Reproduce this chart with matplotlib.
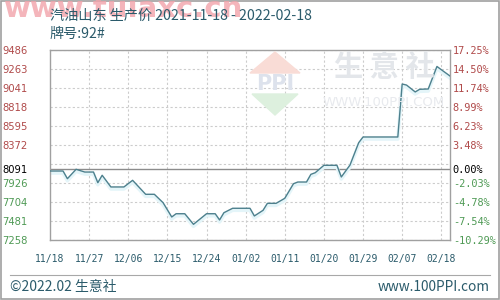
import matplotlib.pyplot as plt
import matplotlib.transforms as mtransforms
from matplotlib.patches import Polygon, Rectangle
from matplotlib.lines import Line2D

plt.rcParams['font.family'] = ['Noto Sans CJK SC', 'DejaVu Sans']

# days counted from 2021-11-18, price in yuan/ton
days = [0, 3, 4, 6, 8, 10, 11, 12, 14, 17, 19, 22, 24, 26, 28, 29, 31, 33, 36, 38,
        39, 40, 42, 46, 47, 49, 50, 52, 54, 56, 57, 59, 60, 61, 63, 66, 67, 69, 71, 72,
        80, 81, 82, 84, 85, 87, 89, 90, 92]
prices = [8067, 8067, 7977, 8087, 8055, 8055, 7930, 8017, 7880, 7880, 7958, 7794, 7794,
          7696, 7528, 7566, 7566, 7442, 7566, 7566, 7493, 7578, 7630, 7630, 7540, 7606,
          7688, 7688, 7747, 7918, 7938, 7938, 8028, 8047, 8134, 8134, 7997, 8137, 8399,
          8466, 8466, 9087, 9075, 8994, 9025, 9029, 9293, 9255, 9181]

base_price = 8091
grid_levels = [7258, 7480.8, 7703.6, 7926.4, 8149.2, 8372, 8594.8, 8817.6, 9040.4, 9263.2, 9486]
left_ticks = [7258, 7480.8, 7703.6, 7926.4, 8091, 8372, 8594.8, 8817.6, 9040.4, 9263.2, 9486]
left_labels = ['7258', '7481', '7704', '7926', '8091', '8372', '8595', '8818', '9041', '9263', '9486']
right_labels = ['-10.29%', '-7.54%', '-4.78%', '-2.03%', '0.00%', '3.48%', '6.23%',
                '8.99%', '11.74%', '14.50%', '17.25%']
x_ticks = [0, 9, 18, 27, 36, 45, 54, 63, 72, 81, 90]
x_labels = ['11/18', '11/27', '12/06', '12/15', '12/24', '01/02', '01/11', '01/20',
            '01/29', '02/07', '02/18']

teal = '#2b5b6b'
red = '#b04a4a'
green = '#4f9a55'

fig = plt.figure(figsize=(5, 3), dpi=100)
W, H = 500, 300


def fx(px):
    return px / W


def fy(py):
    return 1 - py / H


# watermark of the scraping site
fig.text(fx(4), fy(9), 'www.tuiaxc.cn', fontsize=21, fontweight='bold',
         color='#f2a3aa', family='DejaVu Sans', va='center', ha='left', alpha=0.8)

ax = fig.add_axes([fx(50), fy(240), 400 / W, 190 / H])
ax.set_xlim(0, 92)
ax.set_ylim(7258, 9486)

# background logo
tri_top = Polygon([[fx(250), fy(73)], [fx(300), fy(73)], [fx(275), fy(52)]], closed=True,
                  transform=fig.transFigure, color='#f9dcd6', zorder=0)
tri_bot = Polygon([[fx(252), fy(94)], [fx(298), fy(94)], [fx(275), fy(115)]], closed=True,
                  transform=fig.transFigure, color='#ddf0de', zorder=0)
fig.patches.extend([tri_top, tri_bot])
fig.text(fx(275), fy(84), 'PPI', fontsize=15, color='#dde2ec', ha='center', va='center',
         family='DejaVu Sans', fontweight='bold', zorder=0)
fig.text(fx(384), fy(67), '生 意 社', fontsize=21, color='#e3e6ea', ha='center', va='center',
         fontweight='bold', zorder=0)
fig.text(fx(384), fy(103), 'WWW.100PPI.COM', fontsize=9.5, color='#e8eaee', ha='center',
         va='center', family='DejaVu Sans', zorder=0)

for lv in grid_levels:
    ax.axhline(lv, color='#cccccc', lw=0.8, ls=(0, (2, 2)), zorder=1)
for xt in x_ticks[1:]:
    ax.axvline(xt, color='#cccccc', lw=0.8, ls=(0, (2, 2)), zorder=1)
ax.axhline(base_price, color='#8c8c8c', lw=1.0, zorder=2)

glow = mtransforms.offset_copy(ax.transData, fig=fig, x=0, y=-1.5, units='points')
ax.plot(days, prices, color='#e4f5f9', lw=2.5, transform=glow, zorder=2)
ax.plot(days, prices, color='#4d808d', lw=1.0, zorder=3)

for s in ax.spines.values():
    s.set_color('#a0a0a0')
    s.set_linewidth(1.0)

ax.set_xticks(x_ticks)
ax.set_xticklabels(x_labels, family='DejaVu Sans Mono', fontsize=7, color=teal)
ax.tick_params(axis='x', length=0, pad=10)

ax.set_yticks(left_ticks)
ax.set_yticklabels(left_labels, family='DejaVu Sans', fontsize=7.2)
ax.tick_params(axis='y', length=0, pad=16)
for i, t in enumerate(ax.get_yticklabels()):
    t.set_color(green if i < 4 else ('black' if i == 4 else red))

ax2 = ax.twinx()
ax2.set_ylim(7258, 9486)
ax2.set_yticks(left_ticks)
ax2.set_yticklabels(right_labels, family='DejaVu Sans Mono', fontsize=7.4)
ax2.tick_params(axis='y', length=0, pad=2)
for i, t in enumerate(ax2.get_yticklabels()):
    t.set_color(green if i < 4 else ('black' if i == 4 else red))
for s in ax2.spines.values():
    s.set_visible(False)

fig.text(fx(50), fy(16), '汽油山东 生产价 2021-11-18 - 2022-02-18', fontsize=10.2, color=teal,
         ha='left', va='center')
fig.text(fx(50), fy(34), '牌号:92#', fontsize=10.2, color=teal, ha='left', va='center')

fig.add_artist(Line2D([fx(10), fx(490)], [fy(275), fy(275)], color='#a8a8a8', lw=0.8))
fig.text(fx(10), fy(287), '©2022.02 生意社', fontsize=10, color=teal, ha='left', va='center')
fig.text(fx(490), fy(287), 'www.100PPI.com', fontsize=9.8, color=teal, ha='right', va='center')
fig.add_artist(Rectangle((0.001, 0.002), 0.997, 0.995, transform=fig.transFigure,
                         fill=False, ec='#a0a0a0', lw=1.2))

fig.savefig('out.png', dpi=100)
